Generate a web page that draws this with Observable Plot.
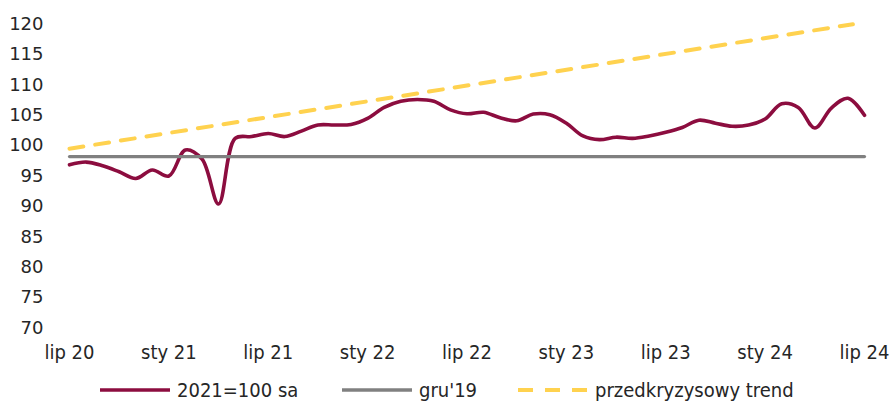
<!DOCTYPE html>
<html>
<head>
<meta charset="utf-8">
<script src="https://cdn.jsdelivr.net/npm/d3@7"></script>
<script src="https://cdn.jsdelivr.net/npm/@observablehq/plot@0.6"></script>
<style>
  html, body { margin: 0; padding: 0; background: #fff; }
  #wrap { position: relative; width: 891px; height: 409px; overflow: hidden; }
  #legend { position: absolute; left: 0; top: 370px; width: 891px; height: 39px;
    font-family: "DejaVu Sans Condensed", "DejaVu Sans", sans-serif; font-size: 20px; color: #262626; }
  .item { position: absolute; top: 0; height: 39px; display: flex; align-items: center; white-space: nowrap; }
  .item svg { display: block; margin-right: 7px; }
</style>
</head>
<body>
<div id="wrap">
  <div id="chart"></div>
  <div id="legend"></div>
</div>
<script>
// Months Jul 2020 .. Jul 2024 (index 0..48)
const tickIdx = [0, 6, 12, 18, 24, 30, 36, 42, 48];
const tickLabels = ["lip 20", "sty 21", "lip 21", "sty 22", "lip 22", "sty 23", "lip 23", "sty 24", "lip 24"];

// 2021=100 sa, monthly
const values = [
  96.85, 97.3, 96.7, 95.7, 94.6, 96.0, 95.0, 99.3, 97.8, 90.4,
  101.2, 101.5, 102.0, 101.5, 102.4, 103.4, 103.4, 103.5, 104.5, 106.3,
  107.3, 107.6, 107.3, 105.9, 105.25, 105.5, 104.6, 104.1, 105.2, 105.1,
  103.7, 101.6, 101.0, 101.4, 101.2, 101.6, 102.2, 103.0, 104.2, 103.7,
  103.2, 103.4, 104.4, 106.9, 106.3, 102.9, 106.2, 107.8, 105.0
];
// gru'19 level
const gru19Idx = [0, 48];
const gru19Val = [98.2, 98.2];
// pre-crisis trend (end points)
const trendIdx = [0, 47.3];
const trendVal = [99.5, 120.0];

const seriesNames = ["2021=100 sa", "gru'19", "przedkryzysowy trend"];
const colors = ["#8c0d3f", "#808080", "#ffd24f"];

const main = values.map((v, i) => ({i, v}));
const gru = gru19Idx.map((i, k) => ({i, v: gru19Val[k]}));
const trend = trendIdx.map((i, k) => ({i, v: trendVal[k]}));

const chart = Plot.plot({
  width: 891,
  height: 370,
  marginLeft: 69,
  marginRight: 27,
  marginTop: 23.7,
  marginBottom: 42.6,
  style: { background: "#fff", color: "#262626", overflow: "visible" },
  x: { domain: [0, 48], ticks: tickIdx, tickFormat: (d) => tickLabels[tickIdx.indexOf(d)], label: null },
  y: { domain: [70, 120], ticks: d3.range(70, 121, 5), label: null },
  marks: [
    Plot.axisY({ ticks: d3.range(70, 121, 5), tickSize: 0, tickPadding: 26, label: null,
      fontSize: 18, fontFamily: "DejaVu Sans", fill: "#262626" }),
    Plot.axisX({ ticks: tickIdx, tickFormat: (d) => tickLabels[tickIdx.indexOf(d)], tickSize: 0, tickPadding: 17, label: null,
      fontSize: 20, fontFamily: "DejaVu Sans Condensed", fill: "#262626" }),
    Plot.line(main, { x: "i", y: "v", stroke: colors[0], strokeWidth: 3.6, curve: "catmull-rom" }),
    Plot.line(gru, { x: "i", y: "v", stroke: colors[1], strokeWidth: 3.2 }),
    Plot.line(trend, { x: "i", y: "v", stroke: colors[2], strokeWidth: 4, strokeDasharray: "14 12" })
  ]
});
document.getElementById("chart").appendChild(chart);

// Legend
const legend = document.getElementById("legend");
const lefts = [100, 342, 518];
const dashes = [null, null, "15 12"];
seriesNames.forEach((name, k) => {
  const item = document.createElement("div");
  item.className = "item";
  item.style.left = lefts[k] + "px";
  const sw = d3.create("svg").attr("width", 70).attr("height", 10);
  sw.append("line").attr("x1", 0).attr("x2", 70).attr("y1", 5).attr("y2", 5)
    .attr("stroke", colors[k]).attr("stroke-width", k === 2 ? 4 : 3.6)
    .attr("stroke-dasharray", dashes[k]);
  item.appendChild(sw.node());
  const t = document.createElement("span");
  t.textContent = name;
  item.appendChild(t);
  legend.appendChild(item);
});
</script>
</body>
</html>
